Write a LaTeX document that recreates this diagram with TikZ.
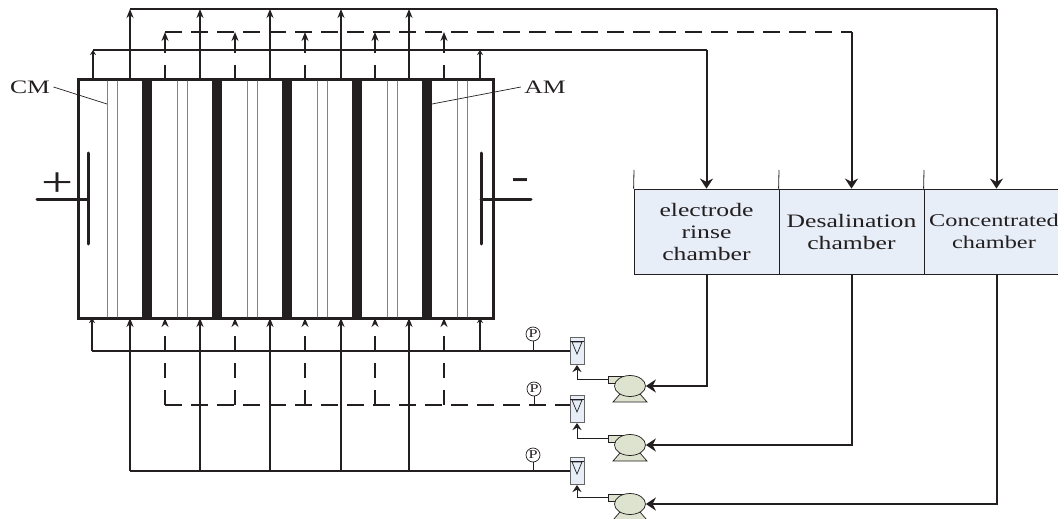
\documentclass[tikz,border=0pt]{standalone}
\usepackage{xcolor}
\usepackage{fontspec}
\setmainfont[FakeStretch=1.35]{Liberation Serif}
\usepackage{tikz}
\usetikzlibrary{arrows.meta,positioning,shapes.geometric}
\definecolor{chamberblue}{HTML}{E8EEF7}
\definecolor{pumpgreen}{HTML}{DDE3CE}
\definecolor{linedark}{HTML}{231F20}

\begin{document}
\begin{tikzpicture}[
      x=1pt, y=-1pt,
      color=linedark,
      font=\fontsize{19}{22}\selectfont,
      stackbox/.style={rectangle, draw, line width=3pt, minimum width=415pt, minimum height=238pt, inner sep=0pt, outer sep=0pt},
      thickmem/.style={rectangle, fill=linedark, draw=none, minimum width=10pt, minimum height=238pt, inner sep=0pt},
      thinmem/.style={rectangle, draw=black!75, line width=1pt, minimum width=0pt, minimum height=238pt, inner sep=0pt},
      electrode/.style={line width=3pt, line cap=round},
      chamber/.style={rectangle, draw, fill=chamberblue, line width=.8pt, minimum width=145pt, minimum height=85pt, align=center, inner sep=0pt},
      gauge/.style={circle, draw, line width=.7pt, minimum size=14pt, inner sep=0pt, font=\fontsize{12}{12}\selectfont},
      rail/.style={line width=1.5pt},
      dashrail/.style={line width=1.5pt, dash pattern=on 17pt off 9pt},
      smallarrow/.style={line width=1.5pt, -{Stealth[length=9pt,width=7pt]}},
      dasharrow/.style={line width=1.5pt, dash pattern=on 15pt off 12pt, -{Stealth[length=9pt,width=7pt]}},
      boldarrow/.style={line width=2.5pt, -{Stealth[length=5pt,width=6pt]}},
      bigarrow/.style={line width=2pt, -{Stealth[length=10pt,width=13pt]}},
      feedarrow/.style={line width=.9pt, -{Stealth[length=7pt,width=9pt]}},
      pump/.pic={
        \draw[fill=pumpgreen, line width=.7pt] (-10,8) -- (-17,16) -- (17,16) -- (10,8) -- cycle;
        \draw[fill=pumpgreen, line width=.7pt] (-22,-10) rectangle (-6,-3);
        \node[ellipse, draw, fill=pumpgreen, line width=.7pt, minimum width=31pt, minimum height=21pt, inner sep=0pt] (-body) at (0,0) {};
        \coordinate (-inlet) at (-22,-6.5);
      },
      meter/.pic={
        \node[rectangle, draw=black!60, fill=chamberblue, line width=1pt, minimum width=14pt, minimum height=27pt, inner sep=0pt] (-box) at (0,0) {};
        \draw[line width=.7pt] (-7,-10) -- (7,-10);
        \draw[line width=.7pt] (-5,-9) -- (5,-9) -- (0,3) -- cycle;
      }
    ]
      \useasboundingbox (0,0) rectangle (1058,519);

      \node [stackbox] (stack) at (285.5,199) {};

      \node [thinmem] (cma) at (107,199) {};
      \node [thinmem] (cmb) at (117,199) {};
      \node [thinmem] (cmc) at (177,199) {};
      \node [thinmem] (cmd) at (187,199) {};
      \node [thinmem] (cme) at (247,199) {};
      \node [thinmem] (cmf) at (257,199) {};
      \node [thinmem] (cmg) at (317,199) {};
      \node [thinmem] (cmh) at (327,199) {};
      \node [thinmem] (cmi) at (387,199) {};
      \node [thinmem] (cmj) at (397,199) {};
      \node [thinmem] (cmk) at (457,199) {};
      \node [thinmem] (cml) at (467,199) {};

      \node [thickmem] (ama) at (147,199) {};
      \node [thickmem] (amb) at (217,199) {};
      \node [thickmem] (amc) at (287,199) {};
      \node [thickmem] (amd) at (357,199) {};
      \node [thickmem] (ame) at (427,199) {};

      \node (cmlabel) at (30,87) {CM};
      \node (amlabel) at (545,87) {AM};
      \coordinate (cmtip) at (107,104);
      \coordinate (amtip) at (432,104);
      \draw [line width=.7pt] (cmlabel.east) -- (cmtip);
      \draw [line width=.7pt] (amlabel.west) -- (amtip);

      \coordinate (anode) at (88,199);
      \coordinate (cathode) at (481,199);
      \draw [electrode] (anode) ++(0,-46) -- ++(0,91);
      \draw [electrode] (anode) -- ++(-51,0);
      \draw [electrode] (cathode) ++(0,-46) -- ++(0,91);
      \draw [electrode] (cathode) -- ++(50,0);
      \node [font=\fontsize{42}{42}\selectfont, inner sep=0pt] (plus) at (57,185) {+};
      \node [font=\fontsize{40}{40}\selectfont, inner sep=0pt] (minus) at (520,184) {-};

      \node [chamber] (rinse) at (706.5,231.5) {electrode\\rinse\\chamber};
      \node [chamber] (desal) at (851.5,231.5) {Desalination\\chamber};
      \node [chamber] (conc) at (996.5,231.5) {};
      \node [align=center, inner sep=0pt, font=\fontsize{18}{22}\selectfont] (conclabel) at (994,231.5) {Concentrated\\chamber};
      \coordinate (ticka) at (634,170);
      \coordinate (tickb) at (779,170);
      \coordinate (tickc) at (924,170);
      \draw [line width=.8pt] (ticka) -- (rinse.north west);
      \draw [line width=.8pt] (tickb) -- (desal.north west);
      \draw [line width=.8pt] (tickc) -- (conc.north west);

      \coordinate (rinseup) at (93,50);
      \coordinate (desalup) at (165,32);
      \coordinate (concup) at (130,9);
      \coordinate (rinsedown) at (92,351);
      \coordinate (desaldown) at (165,405);
      \coordinate (concdown) at (130,471);

      \coordinate (porta) at (480,50);
      \coordinate (portb) at (200,9);
      \coordinate (portc) at (270,9);
      \coordinate (portd) at (341,9);
      \coordinate (porte) at (409,9);
      \coordinate (portf) at (235,32);
      \coordinate (portg) at (305,32);
      \coordinate (porth) at (375,32);
      \coordinate (porti) at (444,32);

      \draw [boldarrow] (rinseup |- stack.north) -- (rinseup);
      \draw [boldarrow] (porta |- stack.north) -- (porta);
      \draw [smallarrow] (concup |- stack.north) -- (concup);
      \draw [smallarrow] (portb |- stack.north) -- (portb);
      \draw [smallarrow] (portc |- stack.north) -- (portc);
      \draw [smallarrow] (portd |- stack.north) -- (portd);
      \draw [smallarrow] (porte |- stack.north) -- (porte);
      \draw [dasharrow] (desalup |- stack.north) -- (desalup);
      \draw [dasharrow] (portf |- stack.north) -- (portf);
      \draw [dasharrow] (portg |- stack.north) -- (portg);
      \draw [dasharrow] (porth |- stack.north) -- (porth);
      \draw [dasharrow] (porti |- stack.north) -- (porti);

      \draw [rail] (rinseup) -- (rinseup -| rinse.north);
      \draw [bigarrow] (rinseup -| rinse.north) -- (rinse.north);
      \draw [dashrail] (desalup) -- (desalup -| desal.north);
      \draw [bigarrow] (desalup -| desal.north) -- (desal.north);
      \draw [rail] (concup) -- (concup -| conc.north);
      \draw [bigarrow] (concup -| conc.north) -- (conc.north);

      \pic (metera) at (577,351) {meter};
      \pic (meterb) at (577,409) {meter};
      \pic (meterc) at (577,471) {meter};
      \pic (pumpa) at (630,386) {pump};
      \pic (pumpb) at (630,445) {pump};
      \pic (pumpc) at (630,504) {pump};

      \draw [rail] (rinsedown) -- (metera-box.west);
      \draw [dashrail] (desaldown) -- (desaldown -| meterb-box.west);
      \draw [rail] (concdown) -- (meterc-box.west);

      \draw [boldarrow] (rinsedown) -- (rinsedown |- stack.south);
      \draw [boldarrow] (porta |- rinsedown) -- (porta |- stack.south);
      \draw [smallarrow] (concdown) -- (concdown |- stack.south);
      \draw [smallarrow] (portb |- concdown) -- (portb |- stack.south);
      \draw [smallarrow] (portc |- concdown) -- (portc |- stack.south);
      \draw [smallarrow] (portd |- concdown) -- (portd |- stack.south);
      \draw [smallarrow] (porte |- concdown) -- (porte |- stack.south);
      \draw [dasharrow] (desaldown) -- (desaldown |- stack.south);
      \draw [dasharrow] (portf |- desaldown) -- (portf |- stack.south);
      \draw [dasharrow] (portg |- desaldown) -- (portg |- stack.south);
      \draw [dasharrow] (porth |- desaldown) -- (porth |- stack.south);
      \draw [dasharrow] (porti |- desaldown) -- (porti |- stack.south);

      \node [gauge] (gaugea) at (533,334) {P};
      \node [gauge] (gaugeb) at (534,389) {P};
      \node [gauge] (gaugec) at (533,455) {P};
      \draw [line width=.7pt] (gaugea) -- (gaugea |- rinsedown);
      \draw [line width=.7pt] (gaugeb) -- (gaugeb |- desaldown);
      \draw [line width=.7pt] (gaugec) -- (gaugec |- concdown);

      \draw [feedarrow] (pumpa-inlet) -| (metera-box.south);
      \draw [feedarrow] (pumpb-inlet) -| (meterb-box.south);
      \draw [feedarrow] (pumpc-inlet) -| (meterc-box.south);

      \draw [bigarrow] (rinse.south) |- (pumpa-body.east);
      \draw [bigarrow] (desal.south) |- (pumpb-body.east);
      \draw [bigarrow] (conc.south) |- (pumpc-body.east);
    \end{tikzpicture}
\end{document}
